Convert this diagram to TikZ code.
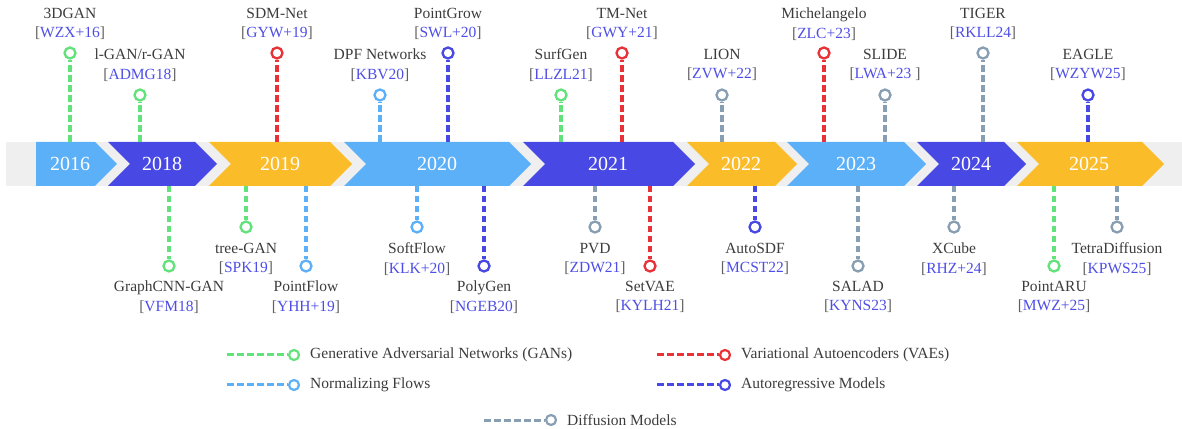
\documentclass[tikz,border=0pt]{standalone}
\usepackage{fontspec}
\setmainfont{Liberation Serif}
\usepackage{tikz}
\usetikzlibrary{positioning}

\definecolor{ganGreen}{RGB}{98,226,122}
\definecolor{vaeRed}{RGB}{232,50,56}
\definecolor{flowBlue}{RGB}{92,176,248}
\definecolor{arBlue}{RGB}{72,72,228}
\definecolor{diffGray}{RGB}{136,158,178}
\definecolor{yearYellow}{RGB}{251,188,42}
\definecolor{bandGray}{RGB}{239,239,239}
\definecolor{nameGray}{RGB}{60,60,60}
\definecolor{brkGray}{RGB}{95,95,95}
\definecolor{refBlue}{RGB}{78,78,230}

\newcommand{\refkey}[1]{{\color{brkGray}[}{\color{refBlue}#1}{\color{brkGray}]}}

\begin{document}
\begin{tikzpicture}[x=1pt,y=1pt]
          \tikzset{milestone/.style={circle,draw=#1,fill=white,line width=2.3pt,minimum size=11pt,inner sep=0pt}}
          \tikzset{stem/.style={draw=#1,line width=3.3pt,dash pattern=on 6.5pt off 3.5pt}}
          \tikzset{legstem/.style={draw=#1,line width=3pt,dash pattern=on 7pt off 3pt}}
          \tikzset{legmark/.style={circle,draw=#1,fill=white,line width=2.2pt,minimum size=10pt,inner sep=0pt}}
          \tikzset{paper/.style={text=nameGray,align=center,font=\fontsize{15.5}{19.5}\selectfont,inner sep=0pt}}
          \tikzset{legtext/.style={text=nameGray,anchor=west,font=\fontsize{15.5}{19}\selectfont,inner sep=0pt}}
          \tikzset{yearlbl/.style={text=white,font=\fontsize{20}{24}\selectfont,inner sep=0pt}}
          \useasboundingbox (0,0) rectangle (1182,428);

          % timeline band
          \fill[bandGray] (6,242) rectangle (1182,286);
          \fill[flowBlue] (36,286) -- (95,286) -- (117,264) -- (95,242) -- (36,242) -- cycle;
          \fill[arBlue] (108,286) -- (195,286) -- (217,264) -- (195,242) -- (108,242) -- (130,264) -- cycle;
          \fill[yearYellow] (209,286) -- (330,286) -- (352,264) -- (330,242) -- (209,242) -- (231,264) -- cycle;
          \fill[flowBlue] (344,286) -- (509,286) -- (531,264) -- (509,242) -- (344,242) -- (366,264) -- cycle;
          \fill[arBlue] (523,286) -- (673,286) -- (695,264) -- (673,242) -- (523,242) -- (545,264) -- cycle;
          \fill[yearYellow] (687,286) -- (775,286) -- (797,264) -- (775,242) -- (687,242) -- (709,264) -- cycle;
          \fill[flowBlue] (787,286) -- (904,286) -- (926,264) -- (904,242) -- (787,242) -- (809,264) -- cycle;
          \fill[arBlue] (917,286) -- (1004,286) -- (1026,264) -- (1004,242) -- (917,242) -- (939,264) -- cycle;
          \fill[yearYellow] (1017,286) -- (1142,286) -- (1164,264) -- (1142,242) -- (1017,242) -- (1039,264) -- cycle;

          \node[yearlbl] (y2016) at (70,264) {2016};
          \node[yearlbl] (y2018) at (162,264) {2018};
          \node[yearlbl] (y2019) at (280,264) {2019};
          \node[yearlbl] (y2020) at (437,264) {2020};
          \node[yearlbl] (y2021) at (608,264) {2021};
          \node[yearlbl] (y2022) at (741,264) {2022};
          \node[yearlbl] (y2023) at (856,264) {2023};
          \node[yearlbl] (y2024) at (971,264) {2024};
          \node[yearlbl] (y2025) at (1089,264) {2025};

          % GANs
          \coordinate (e3dgan) at (70,286);
          \node[milestone=ganGreen] (m3dgan) at (70,375) {};
          \node[paper] (p3dgan) at (70,404) {3DGAN\\\refkey{WZX+16}};
          \draw[stem=ganGreen] (e3dgan) -- (m3dgan);
          \coordinate (elgan) at (140,286);
          \node[milestone=ganGreen] (mlgan) at (140,333) {};
          \node[paper] (plgan) at (140,363) {l-GAN/r-GAN\\\refkey{ADMG18}};
          \draw[stem=ganGreen] (elgan) -- (mlgan);
          \coordinate (esurfgen) at (561,286);
          \node[milestone=ganGreen] (msurfgen) at (561,333) {};
          \node[paper] (psurfgen) at (561,363) {SurfGen\\\refkey{LLZL21}};
          \draw[stem=ganGreen] (esurfgen) -- (msurfgen);
          \coordinate (egraphcnn) at (169,242);
          \node[milestone=ganGreen] (mgraphcnn) at (169,162) {};
          \node[paper] (pgraphcnn) at (169,131) {GraphCNN-GAN\\\refkey{VFM18}};
          \draw[stem=ganGreen] (egraphcnn) -- (mgraphcnn);
          \coordinate (etreegan) at (246,242);
          \node[milestone=ganGreen] (mtreegan) at (246,201) {};
          \node[paper] (ptreegan) at (246,169) {tree-GAN\\\refkey{SPK19}};
          \draw[stem=ganGreen] (etreegan) -- (mtreegan);
          \coordinate (epointaru) at (1054,242);
          \node[milestone=ganGreen] (mpointaru) at (1054,162) {};
          \node[paper] (ppointaru) at (1054,131) {PointARU\\\refkey{MWZ+25}};
          \draw[stem=ganGreen] (epointaru) -- (mpointaru);

          % VAEs
          \coordinate (esdmnet) at (277,286);
          \node[milestone=vaeRed] (msdmnet) at (277,375) {};
          \node[paper] (psdmnet) at (277,404) {SDM-Net\\\refkey{GYW+19}};
          \draw[stem=vaeRed] (esdmnet) -- (msdmnet);
          \coordinate (etmnet) at (622,286);
          \node[milestone=vaeRed] (mtmnet) at (622,375) {};
          \node[paper] (ptmnet) at (622,404) {TM-Net\\\refkey{GWY+21}};
          \draw[stem=vaeRed] (etmnet) -- (mtmnet);
          \coordinate (emichel) at (824,286);
          \node[milestone=vaeRed] (mmichel) at (824,375) {};
          \node[paper] (pmichel) at (824,404) {Michelangelo\\\refkey{ZLC+23}};
          \draw[stem=vaeRed] (emichel) -- (mmichel);
          \coordinate (esetvae) at (650,242);
          \node[milestone=vaeRed] (msetvae) at (650,162) {};
          \node[paper] (psetvae) at (650,131) {SetVAE\\\refkey{KYLH21}};
          \draw[stem=vaeRed] (esetvae) -- (msetvae);

          % normalizing flows
          \coordinate (edpf) at (380,286);
          \node[milestone=flowBlue] (mdpf) at (380,333) {};
          \node[paper] (pdpf) at (380,363) {DPF Networks\\\refkey{KBV20}};
          \draw[stem=flowBlue] (edpf) -- (mdpf);
          \coordinate (epointflow) at (306,242);
          \node[milestone=flowBlue] (mpointflow) at (306,162) {};
          \node[paper] (ppointflow) at (306,131) {PointFlow\\\refkey{YHH+19}};
          \draw[stem=flowBlue] (epointflow) -- (mpointflow);
          \coordinate (esoftflow) at (417,242);
          \node[milestone=flowBlue] (msoftflow) at (417,201) {};
          \node[paper] (psoftflow) at (417,169) {SoftFlow\\\refkey{KLK+20}};
          \draw[stem=flowBlue] (esoftflow) -- (msoftflow);

          % autoregressive
          \coordinate (epointgrow) at (448,286);
          \node[milestone=arBlue] (mpointgrow) at (448,375) {};
          \node[paper] (ppointgrow) at (448,404) {PointGrow\\\refkey{SWL+20}};
          \draw[stem=arBlue] (epointgrow) -- (mpointgrow);
          \coordinate (eeagle) at (1088,286);
          \node[milestone=arBlue] (meagle) at (1088,333) {};
          \node[paper] (peagle) at (1088,363) {EAGLE\\\refkey{WZYW25}};
          \draw[stem=arBlue] (eeagle) -- (meagle);
          \coordinate (epolygen) at (484,242);
          \node[milestone=arBlue] (mpolygen) at (484,162) {};
          \node[paper] (ppolygen) at (484,131) {PolyGen\\\refkey{NGEB20}};
          \draw[stem=arBlue] (epolygen) -- (mpolygen);
          \coordinate (eautosdf) at (755,242);
          \node[milestone=arBlue] (mautosdf) at (755,201) {};
          \node[paper] (pautosdf) at (755,169) {AutoSDF\\\refkey{MCST22}};
          \draw[stem=arBlue] (eautosdf) -- (mautosdf);

          % diffusion
          \coordinate (elion) at (722,286);
          \node[milestone=diffGray] (mlion) at (722,333) {};
          \node[paper] (plion) at (722,363) {LION\\\refkey{ZVW+22}};
          \draw[stem=diffGray] (elion) -- (mlion);
          \coordinate (eslide) at (885,286);
          \node[milestone=diffGray] (mslide) at (885,333) {};
          \node[paper] (pslide) at (885,363) {SLIDE\\\refkey{LWA+23\ }};
          \draw[stem=diffGray] (eslide) -- (mslide);
          \coordinate (etiger) at (983,286);
          \node[milestone=diffGray] (mtiger) at (983,375) {};
          \node[paper] (ptiger) at (983,404) {TIGER\\\refkey{RKLL24}};
          \draw[stem=diffGray] (etiger) -- (mtiger);
          \coordinate (epvd) at (595,242);
          \node[milestone=diffGray] (mpvd) at (595,201) {};
          \node[paper] (ppvd) at (595,169) {PVD\\\refkey{ZDW21}};
          \draw[stem=diffGray] (epvd) -- (mpvd);
          \coordinate (esalad) at (858,242);
          \node[milestone=diffGray] (msalad) at (858,162) {};
          \node[paper] (psalad) at (858,131) {SALAD\\\refkey{KYNS23}};
          \draw[stem=diffGray] (esalad) -- (msalad);
          \coordinate (excube) at (954,242);
          \node[milestone=diffGray] (mxcube) at (954,201) {};
          \node[paper] (pxcube) at (954,169) {XCube\\\refkey{RHZ+24}};
          \draw[stem=diffGray] (excube) -- (mxcube);
          \coordinate (etetra) at (1117,242);
          \node[milestone=diffGray] (mtetra) at (1117,201) {};
          \node[paper] (ptetra) at (1117,169) {TetraDiffusion\\\refkey{KPWS25}};
          \draw[stem=diffGray] (etetra) -- (mtetra);

          % legend
          \coordinate (sgan) at (227,73);
          \node[legmark=ganGreen] (kgan) at (294,73) {};
          \node[legtext] (tgan) at (310,73) {Generative Adversarial Networks (GANs)};
          \draw[legstem=ganGreen] (sgan) -- (kgan);
          \coordinate (svae) at (657,73);
          \node[legmark=vaeRed] (kvae) at (725,73) {};
          \node[legtext] (tvae) at (741,73) {Variational Autoencoders (VAEs)};
          \draw[legstem=vaeRed] (svae) -- (kvae);
          \coordinate (sflow) at (227,43);
          \node[legmark=flowBlue] (kflow) at (294,43) {};
          \node[legtext] (tflow) at (310,43) {Normalizing Flows};
          \draw[legstem=flowBlue] (sflow) -- (kflow);
          \coordinate (sar) at (657,43);
          \node[legmark=arBlue] (kar) at (725,43) {};
          \node[legtext] (tar) at (741,43) {Autoregressive Models};
          \draw[legstem=arBlue] (sar) -- (kar);
          \coordinate (sdiff) at (484,8);
          \node[legmark=diffGray] (kdiff) at (551,8) {};
          \node[legtext] (tdiff) at (567,8) {Diffusion Models};
          \draw[legstem=diffGray] (sdiff) -- (kdiff);
\end{tikzpicture}
\end{document}
